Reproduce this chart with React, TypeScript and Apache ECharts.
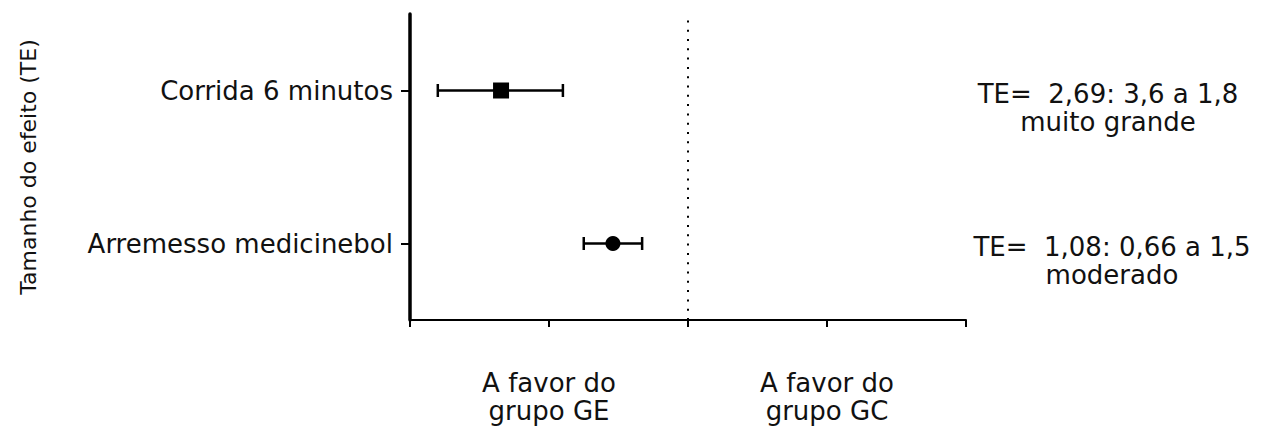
import React, { useEffect, useRef } from "react";
import * as echarts from "echarts";

// ---- data ----
const categories = ["Corrida 6 minutos", "Arremesso medicinebol"];
const categoryPositions = [3, 1];
const effectSizes = [2.69, 1.08];
const ciUpper = [3.6, 1.5];
const ciLower = [1.8, 0.66];
const markerSymbols = ["rect", "circle"];
const markerSizes = [16, 15];
const annotations = [
  "TE=  2,69: 3,6 a 1,8\nmuito grande",
  "TE=  1,08: 0,66 a 1,5\nmoderado",
];
const xTickValues = [2, -2];
const xTickLabels = ["A favor do\ngrupo GE", "A favor do\ngrupo GC"];
const yAxisTitle = "Tamanho do efeito (TE)";

const FONT = "'DejaVu Sans', 'Liberation Sans', sans-serif";
const TXT = "#111";

export default function App() {
  const ref = useRef<HTMLDivElement>(null);

  useEffect(() => {
    if (!ref.current) return;
    const chart = echarts.init(ref.current, undefined, { renderer: "svg" });

    const ciData = categories.map((_, i) => [ciUpper[i], ciLower[i], categoryPositions[i]]);
    const pointData = categories.map((_, i) => ({
      value: [effectSizes[i], categoryPositions[i]],
      symbol: markerSymbols[i],
      symbolSize: markerSizes[i],
    }));

    const option: any = {
      animation: false,
      grid: { left: 410, right: 302, top: 14, bottom: 106, outerBoundsMode: "none", containLabel: false },
      xAxis: {
        type: "value",
        min: -4,
        max: 4,
        interval: 2,
        inverse: true,
        splitLine: { show: false },
        axisLine: { show: true, onZero: false, lineStyle: { color: "#000", width: 2 } },
        axisTick: { show: true, length: 7, lineStyle: { color: "#000", width: 2 } },
        axisLabel: {
          show: true,
          customValues: xTickValues,
          formatter: (v: number) => {
            const i = xTickValues.indexOf(v);
            return i >= 0 ? xTickLabels[i] : "";
          },
          margin: 49,
          fontSize: 26,
          lineHeight: 28,
          color: TXT,
          fontFamily: FONT,
        },
      },
      yAxis: {
        type: "value",
        min: 0,
        max: 4,
        interval: 1,
        splitLine: { show: false },
        axisLine: { show: true, onZero: false, lineStyle: { color: "#000", width: 3.5 } },
        axisTick: { show: true, length: 9, customValues: categoryPositions, lineStyle: { color: "#000", width: 2 } },
        axisLabel: {
          show: true,
          customValues: categoryPositions,
          formatter: (v: number) => {
            const i = categoryPositions.indexOf(v);
            return i >= 0 ? categories[i] : "";
          },
          margin: 17,
          fontSize: 26,
          color: TXT,
          fontFamily: FONT,
        },
        name: yAxisTitle,
        nameLocation: "middle",
        nameGap: 371,
        nameTextStyle: { fontSize: 22, color: TXT, fontFamily: FONT },
      },
      series: [
        {
          type: "custom",
          z: 2,
          data: ciData,
          encode: { x: [0, 1], y: 2 },
          renderItem: (params: any, api: any) => {
            const y = api.value(2);
            const a = api.coord([api.value(0), y]);
            const b = api.coord([api.value(1), y]);
            const h = 6.5;
            const st = { stroke: "#000", lineWidth: 2.5 };
            return {
              type: "group",
              children: [
                { type: "line", shape: { x1: a[0], y1: a[1], x2: b[0], y2: b[1] }, style: st },
                { type: "line", shape: { x1: a[0], y1: a[1] - h, x2: a[0], y2: a[1] + h }, style: st },
                { type: "line", shape: { x1: b[0], y1: b[1] - h, x2: b[0], y2: b[1] + h }, style: st },
              ],
            };
          },
        },
        {
          type: "scatter",
          z: 3,
          data: pointData,
          itemStyle: { color: "#000", opacity: 1 },
          markLine: {
            silent: true,
            symbol: "none",
            label: { show: false },
            lineStyle: { color: "#000", width: 2, type: [2, 7.3] },
            data: [{ xAxis: 0 }],
          },
        },
      ],
    };

    chart.setOption(option);

    const graphics = annotations.map((t, i) => {
      const py = chart.convertToPixel({ yAxisIndex: 0 }, categoryPositions[i]) as number;
      return {
        type: "text",
        x: i === 0 ? 1108 : 1112,
        y: py + 17.5,
        style: {
          text: t,
          fontSize: 26,
          lineHeight: 28.5,
          fontFamily: FONT,
          fill: TXT,
          align: "center",
          verticalAlign: "middle",
        },
      };
    });
    chart.setOption({ graphic: graphics });

    return () => chart.dispose();
  }, []);

  return (
    <div
      ref={ref}
      style={{ position: "fixed", left: 0, top: 0, width: 1268, height: 426, background: "#fff" }}
    />
  );
}
